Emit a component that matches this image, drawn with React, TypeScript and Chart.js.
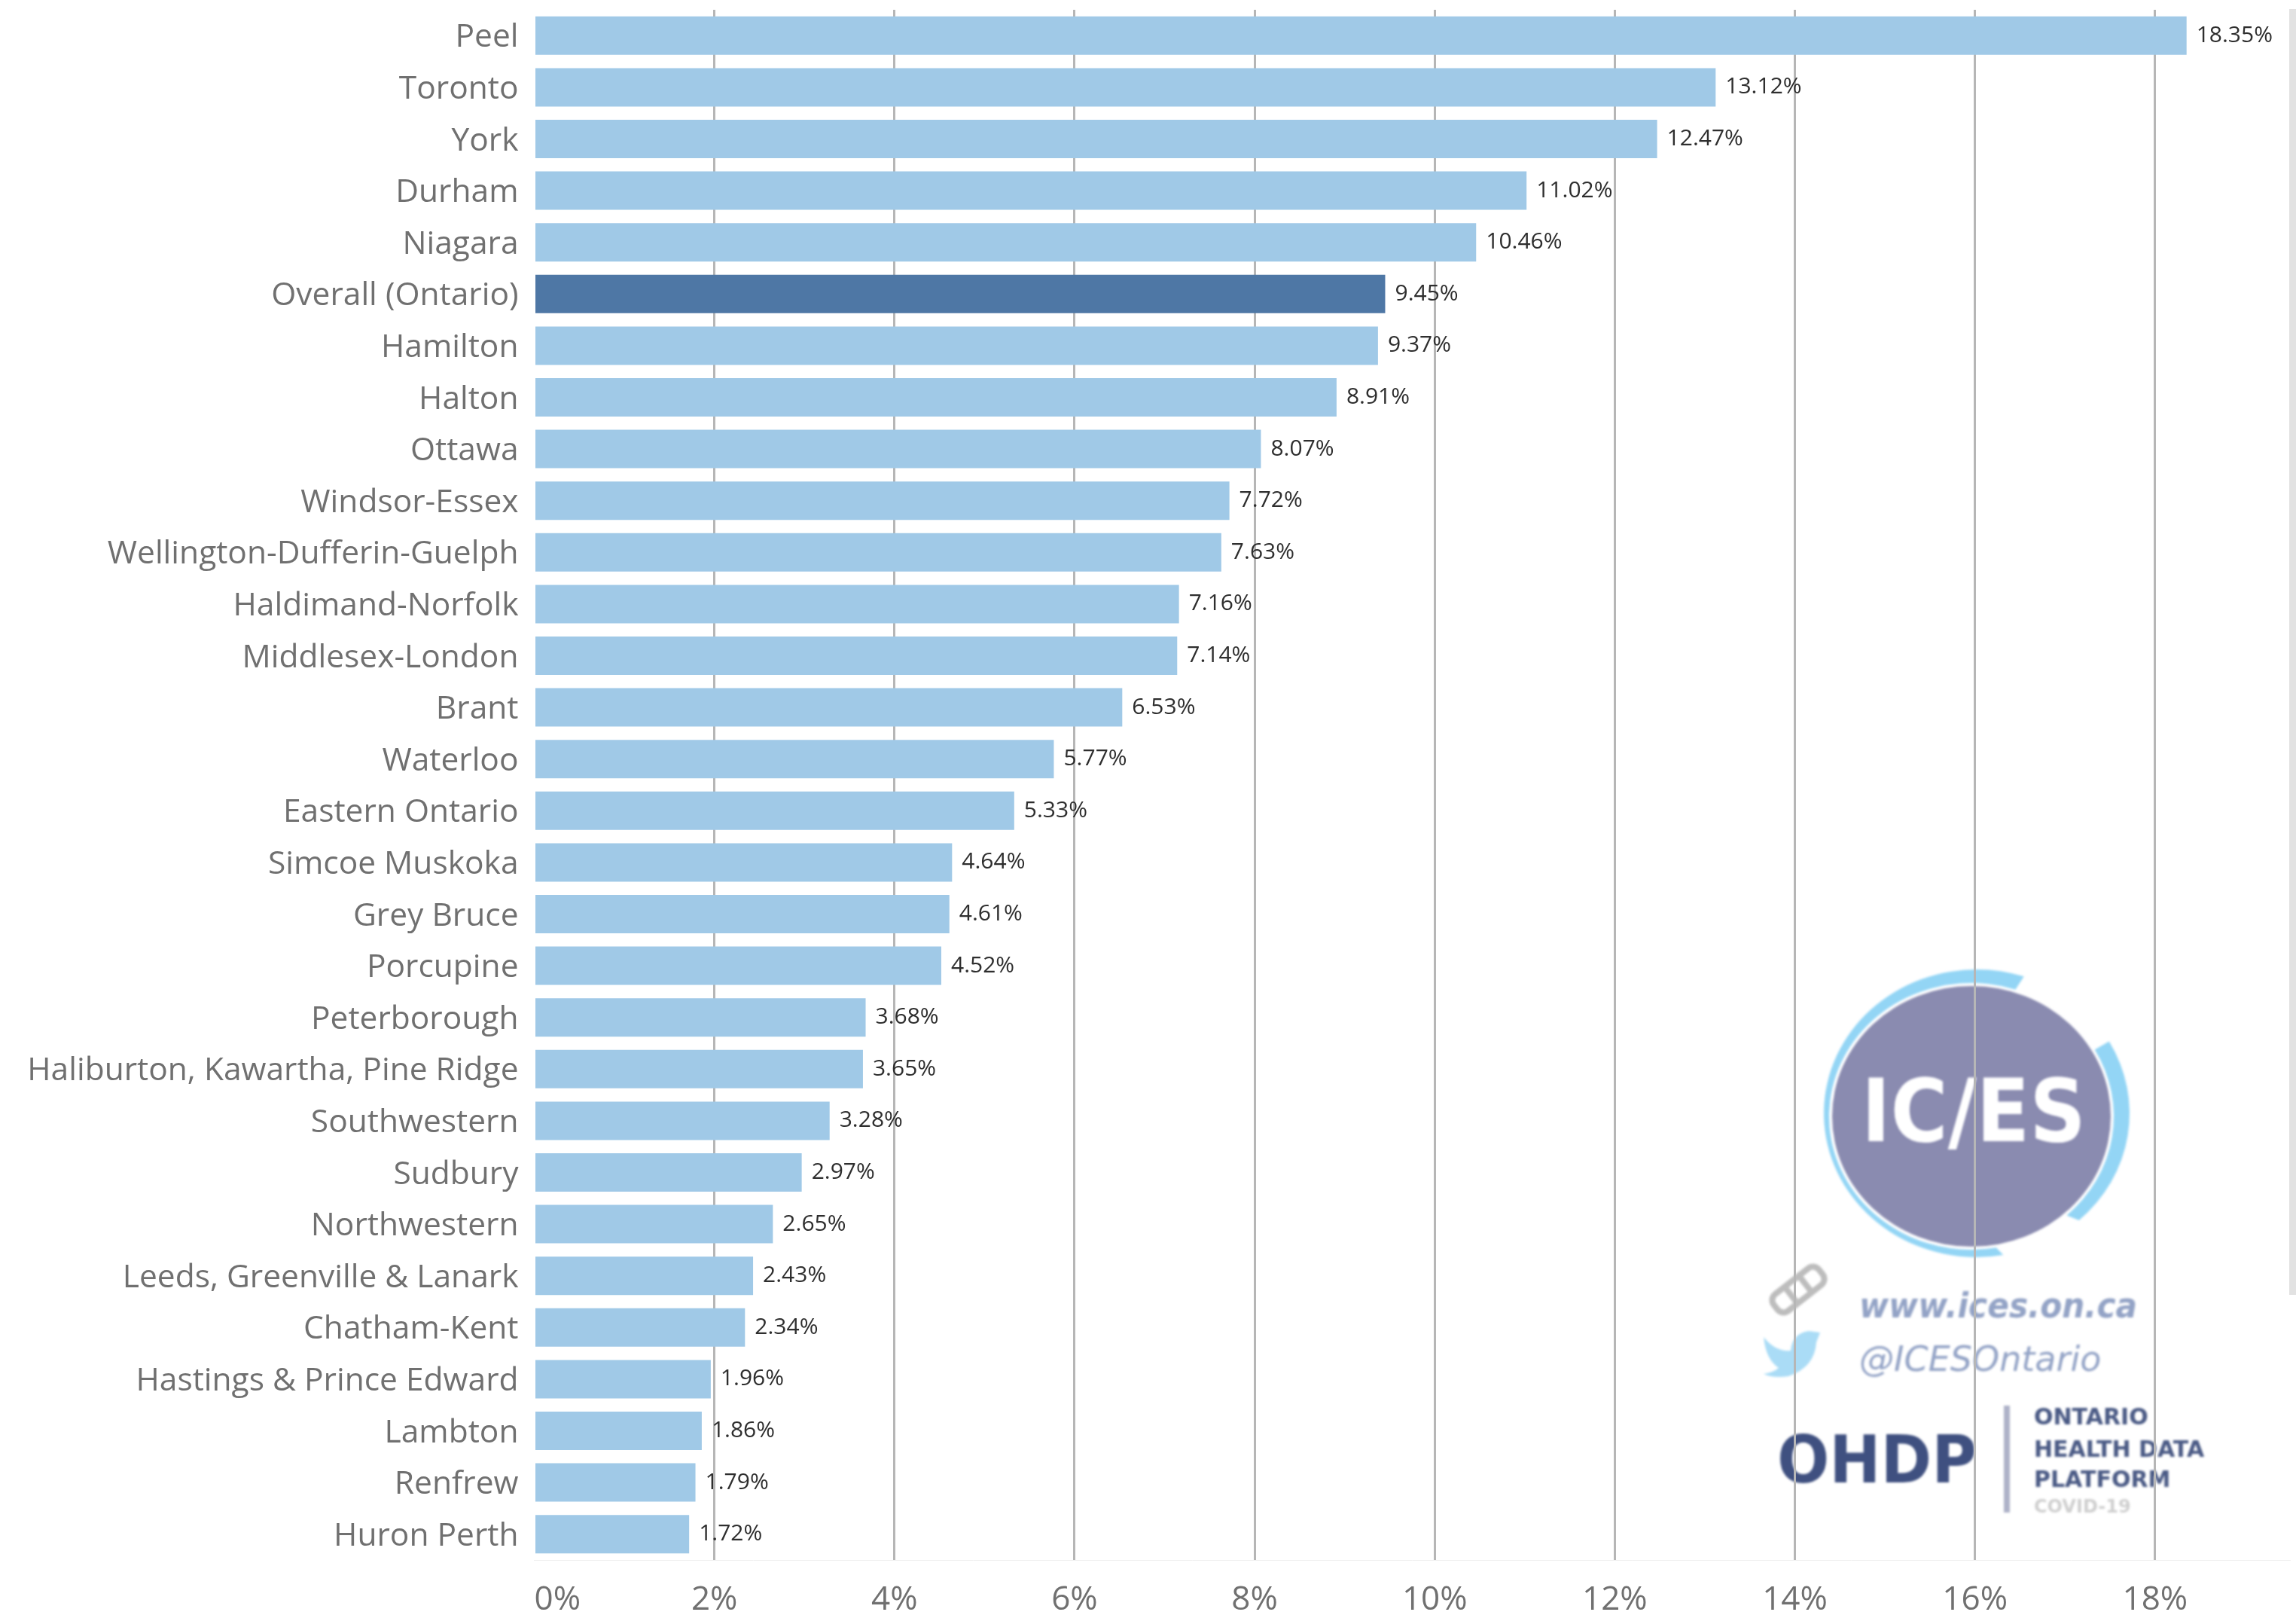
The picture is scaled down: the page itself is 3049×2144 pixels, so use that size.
import React, { useEffect, useRef } from "react";
import { Chart, registerables } from "chart.js";

Chart.register(...registerables);

const categories = [
  "Peel", "Toronto", "York", "Durham", "Niagara", "Overall (Ontario)", "Hamilton", "Halton", "Ottawa",
  "Windsor-Essex", "Wellington-Dufferin-Guelph", "Haldimand-Norfolk", "Middlesex-London", "Brant", "Waterloo",
  "Eastern Ontario", "Simcoe Muskoka", "Grey Bruce", "Porcupine", "Peterborough",
  "Haliburton, Kawartha, Pine Ridge", "Southwestern", "Sudbury", "Northwestern", "Leeds, Greenville & Lanark",
  "Chatham-Kent", "Hastings & Prince Edward", "Lambton", "Renfrew", "Huron Perth",
];
const percentPositive = [
  18.35, 13.12, 12.47, 11.02, 10.46, 9.45, 9.37, 8.91, 8.07, 7.72, 7.63, 7.16, 7.14, 6.53, 5.77,
  5.33, 4.64, 4.61, 4.52, 3.68, 3.65, 3.28, 2.97, 2.65, 2.43, 2.34, 1.96, 1.86, 1.79, 1.72,
];
const xTickValues = [0, 2, 4, 6, 8, 10, 12, 14, 16, 18];
const X_MAX = 19.49;
const highlighted = "Overall (Ontario)";
const BAR = "#a0c9e7";
const BAR_HI = "#4e77a5";
const FONT = '"Open Sans", sans-serif';
const LOGO_FONT = '"DejaVu Sans", sans-serif';

function fitText(ctx: CanvasRenderingContext2D, s: string, x: number, y: number, w: number, font: string, color: string) {
  ctx.font = font;
  ctx.fillStyle = color;
  ctx.textAlign = "left";
  ctx.textBaseline = "alphabetic";
  ctx.fillText(s, x, y, w);
}

function crescent(ctx: CanvasRenderingContext2D, a: number, b: number) {
  ctx.beginPath();
  ctx.ellipse(2625, 1478, 203, 191, 0, a, b, false);
  ctx.ellipse(2618, 1482, 189, 177, 0, b, a, true);
  ctx.closePath();
  ctx.fill();
}

const watermark = {
  id: "watermark",
  beforeDraw(chart: any) {
    const ctx: CanvasRenderingContext2D = chart.ctx;
    ctx.save();
    ctx.filter = "blur(1.5px)";
    const D = Math.PI / 180;
    ctx.fillStyle = "#93d5f5";
    crescent(ctx, 80 * D, 288 * D);
    crescent(ctx, -30 * D, 48 * D);
    ctx.fillStyle = "#8a8bb0";
    ctx.beginPath();
    ctx.ellipse(2618, 1482, 185, 173, 0, 0, Math.PI * 2);
    ctx.fill();
    fitText(ctx, "IC/ES", 2472, 1515, 298, `700 116px ${LOGO_FONT}`, "#ffffff");

    // link icon
    ctx.save();
    ctx.translate(2388, 1712);
    ctx.rotate(-38 * D);
    ctx.strokeStyle = "#bdbdbd";
    ctx.lineWidth = 8;
    ctx.beginPath();
    ctx.roundRect(-38, -14, 76, 28, 10);
    ctx.moveTo(-12, -14); ctx.lineTo(-12, 14);
    ctx.moveTo(12, -14); ctx.lineTo(12, 14);
    ctx.stroke();
    ctx.restore();

    // bird icon
    ctx.fillStyle = "#aadcf6";
    ctx.beginPath();
    ctx.moveTo(2342, 1775);
    ctx.quadraticCurveTo(2358, 1795, 2378, 1793);
    ctx.quadraticCurveTo(2380, 1770, 2402, 1767);
    ctx.lineTo(2417, 1769);
    ctx.lineTo(2412, 1782);
    ctx.quadraticCurveTo(2410, 1815, 2375, 1827);
    ctx.quadraticCurveTo(2355, 1830, 2342, 1824);
    ctx.quadraticCurveTo(2355, 1822, 2362, 1816);
    ctx.quadraticCurveTo(2345, 1805, 2342, 1775);
    ctx.fill();

    fitText(ctx, "www.ices.on.ca", 2469, 1749, 369, `italic 700 46px ${LOGO_FONT}`, "#93a3c6");
    fitText(ctx, "@ICESOntario", 2469, 1820, 326, `italic 400 46px ${LOGO_FONT}`, "#93a3c6");
    fitText(ctx, "OHDP", 2360, 1968, 265, `700 88px ${LOGO_FONT}`, "#3f5080");
    ctx.fillStyle = "#aeb2c8";
    ctx.fillRect(2661, 1866, 8, 142);
    fitText(ctx, "ONTARIO", 2701, 1891, 160, `700 30px ${LOGO_FONT}`, "#4a5a85");
    fitText(ctx, "HEALTH DATA", 2701, 1934, 232, `700 30px ${LOGO_FONT}`, "#4a5a85");
    fitText(ctx, "PLATFORM", 2701, 1974, 191, `700 30px ${LOGO_FONT}`, "#4a5a85");
    fitText(ctx, "COVID-19", 2701, 2008, 148, `700 24px ${LOGO_FONT}`, "#cfcfcf");
    ctx.restore();

    // scrollbar strip on the right edge
    ctx.save();
    ctx.fillStyle = "#e2e2e2";
    ctx.fillRect(3040, 12, 9, 1707);
    ctx.restore();
  },
};

const valueLabels = {
  id: "valueLabels",
  afterDatasetsDraw(chart: any) {
    const ctx: CanvasRenderingContext2D = chart.ctx;
    const meta = chart.getDatasetMeta(0);
    ctx.save();
    ctx.font = `30px ${FONT}`;
    ctx.fillStyle = "#2e2e2e";
    ctx.textAlign = "left";
    ctx.textBaseline = "middle";
    meta.data.forEach((bar: any, i: number) => {
      ctx.fillText(`${percentPositive[i].toFixed(2)}%`, bar.x + 13, bar.y);
    });
    ctx.restore();
  },
};

export default function App() {
  const ref = useRef<HTMLCanvasElement>(null);
  useEffect(() => {
    document.body.style.margin = "0";
    const chart = new Chart(ref.current!, {
      type: "bar",
      data: {
        labels: categories,
        datasets: [
          {
            data: percentPositive,
            backgroundColor: categories.map((c) => (c === highlighted ? BAR_HI : BAR)),
            barPercentage: 0.744,
            categoryPercentage: 1,
          },
        ],
      },
      options: {
        indexAxis: "y",
        responsive: false,
        animation: false,
        layout: { padding: { top: 13, right: 9, left: 0, bottom: 0 } },
        plugins: { legend: { display: false }, tooltip: { enabled: false } },
        scales: {
          x: {
            min: 0,
            max: X_MAX,
            // one unlabelled end tick keeps "inner" alignment on 0% only
            afterBuildTicks: (s: any) => {
              s.ticks = [...xTickValues, X_MAX].map((value) => ({ value }));
            },
            ticks: {
              autoSkip: false,
              maxRotation: 0,
              align: "inner",
              color: "#707070",
              padding: 27,
              font: { family: FONT, size: 44 },
              callback: (v: any) => (xTickValues.includes(Number(v)) ? `${v}%` : ""),
            },
            grid: {
              color: (c: any) => (c.tick && c.tick.value > 0 && xTickValues.includes(c.tick.value) ? "#b6b6b6" : "rgba(0,0,0,0)"),
              lineWidth: 3,
              drawTicks: false,
            },
            border: { display: true, color: "#f0f0f0", width: 1 },
            afterFit: (s: any) => {
              s.height = 73;
              s.paddingLeft = 0;
              s.paddingRight = 0;
            },
          },
          y: {
            ticks: {
              autoSkip: false,
              color: "#707070",
              padding: 21,
              labelOffset: 3,
              font: { family: FONT, size: 42.5 },
            },
            grid: { display: false, drawTicks: false },
            border: { display: false },
            afterFit: (s: any) => {
              s.width = 709.5;
              s.paddingTop = 0;
              s.paddingBottom = 0;
            },
          },
        },
      },
      plugins: [watermark, valueLabels],
    } as any);
    return () => chart.destroy();
  }, []);
  return (
    <canvas
      ref={ref}
      width={3049}
      height={2144}
      style={{ position: "fixed", left: 0, top: 0, width: 3049, height: 2144, background: "#ffffff" }}
    />
  );
}
